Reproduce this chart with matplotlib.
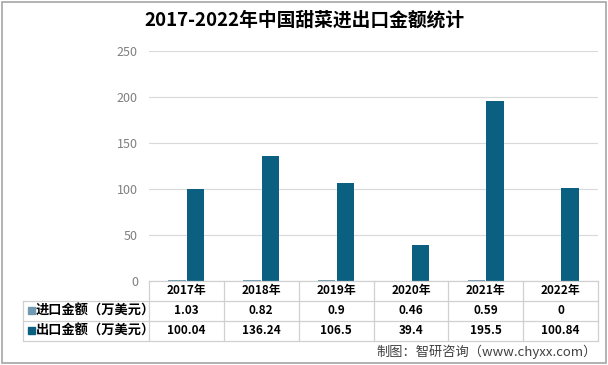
import matplotlib
matplotlib.use("Agg")
import matplotlib.pyplot as plt
from matplotlib.patches import Rectangle

plt.rcParams['font.family'] = ['Noto Sans CJK SC', 'DejaVu Sans']

years = ["2017年", "2018年", "2019年", "2020年", "2021年", "2022年"]
import_vals = [1.03, 0.82, 0.9, 0.46, 0.59, 0]
export_vals = [100.04, 136.24, 106.5, 39.4, 195.5, 100.84]
import_labels = ["1.03", "0.82", "0.9", "0.46", "0.59", "0"]
export_labels = ["100.04", "136.24", "106.5", "39.4", "195.5", "100.84"]
series_names = ["进口金额（万美元）", "出口金额（万美元）"]
colors = ["#6f9ab0", "#0b5f80"]

W, H = 608, 365
fig = plt.figure(figsize=(W / 100, H / 100), dpi=100)

# plot area in pixels
x0, x1 = 149, 598
y_top, y_zero = 51, 281
ax = fig.add_axes([x0 / W, 1 - y_zero / H, (x1 - x0) / W, (y_zero - y_top) / H])

n = len(years)
idx = list(range(n))
bw = 0.23
ax.bar([i - 0.125 for i in idx], import_vals, width=bw, color=colors[0], zorder=3)
ax.bar([i + 0.125 for i in idx], export_vals, width=bw, color=colors[1], zorder=3)
ax.set_xlim(-0.5, n - 0.5)
ax.set_ylim(0, 250)
ax.set_yticks(range(0, 251, 50))
ax.tick_params(axis='y', length=0, labelsize=9, labelcolor="#7f7f7f", pad=8)
ax.set_xticks([])
ax.grid(axis='y', color="#d9d9d9", linewidth=0.8, zorder=0)
for s in ax.spines.values():
    s.set_visible(False)

# data table drawn below the plot, in pixel coordinates
tab = fig.add_axes([0, 0, 1, 1], facecolor="none")
tab.set_xlim(0, W)
tab.set_ylim(H, 0)
tab.axis("off")

line_c = "#d0d0d0"
col_w = (x1 - x0) / n
rows_y = [281, 300.5, 320.5, 341]
tab_left = 23
# horizontal lines
tab.plot([x0, x1], [rows_y[0], rows_y[0]], color=line_c, lw=0.9)
for y in rows_y[1:]:
    tab.plot([tab_left, x1], [y, y], color=line_c, lw=0.9)
# vertical lines
tab.plot([tab_left, tab_left], [rows_y[1], rows_y[3]], color=line_c, lw=0.9)
for k in range(n + 1):
    xx = x0 + k * col_w
    tab.plot([xx, xx], [rows_y[0], rows_y[3]], color=line_c, lw=0.9)

for k in range(n):
    cx = x0 + (k + 0.5) * col_w
    tab.text(cx, (rows_y[0] + rows_y[1]) / 2, years[k], ha="center", va="center",
             fontsize=8.5, fontweight="bold", color="#000000")
    tab.text(cx, (rows_y[1] + rows_y[2]) / 2, import_labels[k], ha="center", va="center",
             fontsize=8.5, fontweight="bold", color="#000000")
    tab.text(cx, (rows_y[2] + rows_y[3]) / 2, export_labels[k], ha="center", va="center",
             fontsize=8.5, fontweight="bold", color="#000000")

for r, name in enumerate(series_names):
    yc = (rows_y[r + 1] + rows_y[r + 2]) / 2
    tab.add_patch(Rectangle((28, yc - 3.5), 7, 7, color=colors[r]))
    tab.text(36, yc, name, ha="left", va="center", fontsize=9.5,
             fontweight="bold", color="#000000")

# title and source
tab.text(304, 20, "2017-2022年中国甜菜进出口金额统计", ha="center", va="center",
         fontsize=13.5, fontweight="bold", color="#000000")
tab.text(597, 352, "制图：智研咨询（www.chyxx.com）", ha="right", va="center",
         fontsize=9.5, color="#404040")

# outer border
tab.add_patch(Rectangle((1.5, 1.5), W - 4, H - 4, fill=False, edgecolor="#a6a6a6", lw=1.2))

fig.savefig("out.png", dpi=100)
